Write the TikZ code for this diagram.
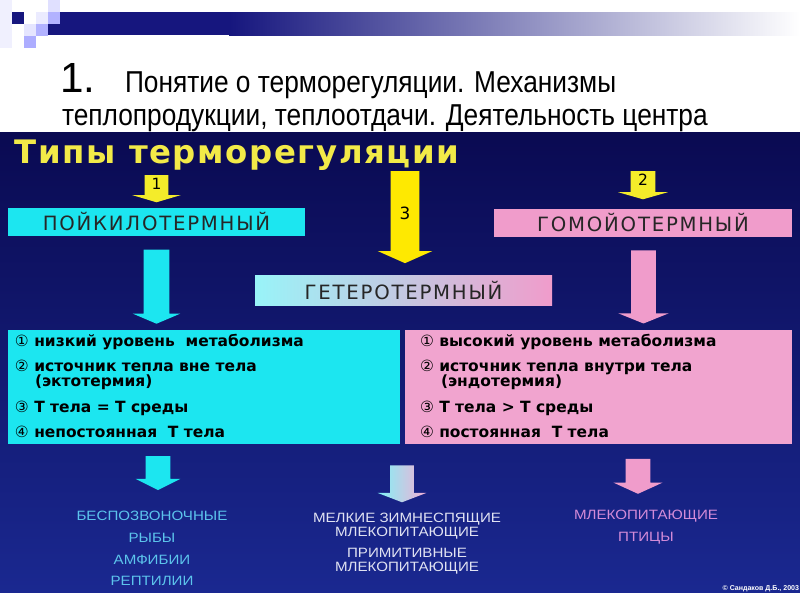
\documentclass[tikz,border=0pt]{standalone}
\usepackage{fontspec}
\setmainfont{Liberation Sans}
\newfontfamily\narrowfont[FakeStretch=0.87]{Liberation Sans}
\newfontfamily\widefont[FakeStretch=1.12]{Liberation Sans}
\newfontfamily\headfont[LetterSpace=5]{DejaVu Sans}
\newfontfamily\boxfont[LetterSpace=9]{DejaVu Sans}
\newfontfamily\itemfont{DejaVu Sans}
\newfontfamily\digfont{DejaVu Sans}
\usetikzlibrary{shapes.arrows}
\definecolor{navy}{HTML}{0A0A52}
\definecolor{deepblue}{HTML}{1A2890}
\definecolor{barblue}{HTML}{16167E}
\definecolor{aqua}{HTML}{1CE6F0}
\definecolor{rose}{HTML}{F09CCB}
\definecolor{lemon}{HTML}{F4EC2A}
\definecolor{sunyellow}{HTML}{F2EA48}
\definecolor{skytext}{HTML}{5CC4EC}
\definecolor{rosetext}{HTML}{D38BD8}
\definecolor{palewhite}{HTML}{E0E2F2}
\newcommand{\pxu}{0.025cm}

\begin{document}
\begin{tikzpicture}[x=0.025cm, y=-0.025cm, every node/.style={inner sep=0pt, outer sep=0pt}, tagbox/.style={minimum height=28*\pxu, font=\boxfont\fontsize{14}{16}\selectfont, text=black!85}, infobox/.style={minimum height=114*\pxu}, item/.style={anchor=base west, font=\itemfont\bfseries\fontsize{11}{13}\selectfont, text=black}, downarrow/.style={single arrow, shape border rotate=270, single arrow head indent=0pt}, leaf/.style={anchor=base, font=\widefont\fontsize{9.6}{11}\selectfont}]
\useasboundingbox (0,0) rectangle (800,600);
\fill[white] (0,0) rectangle (800,600);
\fill[barblue] (48,12) rectangle (230,35);
\fill[left color=barblue, right color=white] (229,12) rectangle (800,35);
\fill[black!4!blue!6] (0,0) rectangle (12,48);
\fill[barblue] (12,12) rectangle (24,24);
\fill[blue!12] (48,0) rectangle (60,12);
\fill[blue!8] (36,12) rectangle (48,24);
\fill[blue!30] (48,12) rectangle (60,24);
\fill[blue!10] (24,24) rectangle (36,36);
\fill[blue!30] (36,24) rectangle (48,36);
\fill[blue!32] (24,36) rectangle (36,48);
\node[anchor=base west, font=\fontsize{30}{34}\selectfont] (num) at (60,92) {1.};
\node[anchor=base west, font=\narrowfont\fontsize{21.5}{25}\selectfont] (line1) at (125,92) {Понятие о терморегуляции. Механизмы};
\node[anchor=base west, font=\narrowfont\fontsize{21.5}{25}\selectfont] (line2) at (62,125) {теплопродукции, теплоотдачи. Деятельность центра};
\fill[top color=navy, bottom color=deepblue] (0,132) rectangle (800,592);
\node[anchor=base west, font=\headfont\bfseries\fontsize{23}{27}\selectfont, text=sunyellow] (types) at (15,163) {Типы терморегуляции};
\node[downarrow, fill=lemon, inner sep=11.5*\pxu, minimum height=20*\pxu, single arrow head extend=12.5*\pxu, single arrow tip angle=147] (a1) at (156.5,187) {};
\node[downarrow, fill=lemon, inner sep=12*\pxu, minimum height=27*\pxu, single arrow head extend=12.5*\pxu, single arrow tip angle=148] (a2) at (643,183.5) {};
\node[downarrow, fill=yellow!96!red, inner sep=14*\pxu, minimum height=92*\pxu, single arrow head extend=13*\pxu, single arrow tip angle=132] (a3) at (405,214) {};
\node[font=\headfont\fontsize{11}{12}\selectfont] (n1) at (156.5,184) {1};
\node[font=\headfont\fontsize{11}{12}\selectfont] (n2) at (643,180) {2};
\node[font=\headfont\fontsize{12}{13}\selectfont] (n3) at (405,213) {3};
\node[tagbox, fill=aqua, minimum width=297*\pxu] (poik) at (156.5,221.5) {ПОЙКИЛОТЕРМНЫЙ};
\node[tagbox, fill=rose, minimum width=298*\pxu] (homo) at (643,222.5) {ГОМОЙОТЕРМНЫЙ};
\node[tagbox, left color=aqua!45!white, right color=rose, minimum width=297*\pxu, minimum height=30*\pxu] (hetero) at (403.5,290) {ГЕТЕРОТЕРМНЫЙ};
\node[downarrow, fill=aqua, inner sep=12.5*\pxu, minimum height=74*\pxu, single arrow head extend=11*\pxu, single arrow tip angle=134] (ac) at (156.5,284) {};
\node[downarrow, fill=rose, inner sep=12*\pxu, minimum height=73*\pxu, single arrow head extend=13*\pxu, single arrow tip angle=136] (ap) at (643.5,284.5) {};
\node[infobox, fill=aqua, minimum width=392*\pxu] (cold) at (204,387) {};
\node[infobox, fill=rose!92!white, minimum width=387*\pxu] (warm) at (598.5,387) {};
\node[item] (c1) at (15,346) {{\digfont\mdseries ①} низкий уровень\ \ метаболизма};
\node[item] (c2) at (15,371) {{\digfont\mdseries ②} источник тепла вне тела};
\node[item] (c2b) at (35,386) {(эктотермия)};
\node[item] (c3) at (15,412) {{\digfont\mdseries ③} Т тела = Т среды};
\node[item] (c4) at (15,437) {{\digfont\mdseries ④} непостоянная\ \ Т тела};
\node[item] (p1) at (420,346) {{\digfont\mdseries ①} высокий уровень метаболизма};
\node[item] (p2) at (420,371) {{\digfont\mdseries ②} источник тепла внутри тела};
\node[item] (p2b) at (441,386) {(эндотермия)};
\node[item] (p3) at (420,412) {{\digfont\mdseries ③} Т тела > Т среды};
\node[item] (p4) at (420,437) {{\digfont\mdseries ④} постоянная\ \ Т тела};
\node[downarrow, fill=aqua, inner sep=12*\pxu, minimum height=34*\pxu, single arrow head extend=10*\pxu, single arrow tip angle=127] (bc) at (158,470) {};
\node[downarrow, left color=aqua!55!white, middle color=white, right color=rose!80!white, inner sep=11.5*\pxu, minimum height=37*\pxu, single arrow head extend=12.5*\pxu, single arrow tip angle=138] (bm) at (402,481.5) {};
\node[downarrow, fill=rose, inner sep=12*\pxu, minimum height=35*\pxu, single arrow head extend=12*\pxu, single arrow tip angle=131] (bp) at (638,473.5) {};
\node[leaf, text=skytext] (inv) at (152,520) {БЕСПОЗВОНОЧНЫЕ};
\node[leaf, text=skytext] (fish) at (152,542) {РЫБЫ};
\node[leaf, text=skytext] (amph) at (152,564) {АМФИБИИ};
\node[leaf, text=skytext] (rept) at (152,585) {РЕПТИЛИИ};
\node[leaf, text=palewhite] (hib) at (407,522) {МЕЛКИЕ ЗИМНЕСПЯЩИЕ};
\node[leaf, text=palewhite] (hibm) at (407,536) {МЛЕКОПИТАЮЩИЕ};
\node[leaf, text=palewhite] (prim) at (407,557) {ПРИМИТИВНЫЕ};
\node[leaf, text=palewhite] (primm) at (407,571) {МЛЕКОПИТАЮЩИЕ};
\node[leaf, text=rosetext] (mam) at (646,519) {МЛЕКОПИТАЮЩИЕ};
\node[leaf, text=rosetext] (bird) at (646,541) {ПТИЦЫ};
\node[anchor=base east, font=\bfseries\fontsize{5}{6}\selectfont, text=white] (copy) at (799,590) {© Сандаков Д.Б., 2003};
\end{tikzpicture}
\end{document}
